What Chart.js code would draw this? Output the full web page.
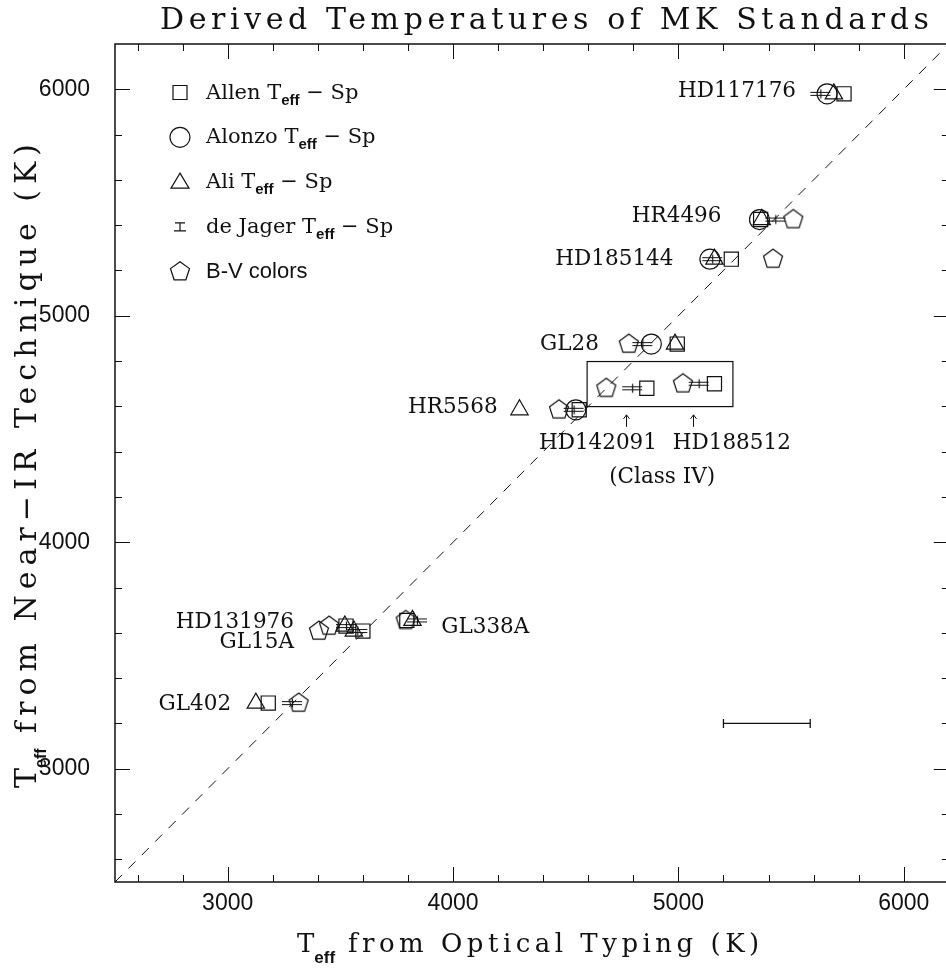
<!DOCTYPE html>
<html>
<head>
<meta charset="utf-8">
<title>Derived Temperatures of MK Standards</title>
<script src="https://cdn.jsdelivr.net/npm/chart.js@4.4.1/dist/chart.umd.min.js"></script>
<style>
  html, body { margin: 0; padding: 0; background: #fff; overflow: hidden; }
  #wrap { width: 960px; height: 969px; }
</style>
</head>
<body>
<div id="wrap"><canvas id="mkstd" width="960" height="969"></canvas></div>
<script>
// stars, same order in every list below
var stars = ['HD117176', 'HR4496', 'HD185144', 'GL28', 'HR5568', 'HD142091',
             'HD188512', 'HD131976', 'GL15A', 'GL338A', 'GL402'];

// Teff from the near-IR technique (y axis)
var nirTeff = [5980, 5425, 5250, 4875, 4585, 4680, 4700, 3630, 3608, 3655, 3290];

// Teff from optical typing (x axis), one list per calibration; null = none
var allenTeff   = [5735, 5365, 5235, 4995, 4560, 4860, 5160, 3525, 3600, 3795, 3180];
var alonzoTeff  = [5660, 5360, 5140, 4880, 4545, null, null, null, null, null, null];
var aliTeff     = [5690, 5370, 5160, 4985, 4295, null, null, 3520, 3560, 3820, 3125];
var deJagerTeff = [5630, 5430, 5150, 4840, 4535, 4795, 5090, 3525, 3575, 3840, 3285];
var bvTeff      = [null, 5510, 5420, 4780, 4470, 4680, 5020, 3450, 3405, 3790, 3315];

var majorTicks = [3000, 4000, 5000, 6000];

// typical uncertainty bar, lower right
var errBarX = [5200, 5585];
var errBarY = 3200;

// star names, placed in data units (text middle at y)
var labelSpots = [
  { text: 'HD117176', x: 5522, y: 5992, align: 'right' },
  { text: 'HR4496',   x: 5191, y: 5439, align: 'right' },
  { text: 'HD185144', x: 4978, y: 5247, align: 'right' },
  { text: 'GL28',     x: 4647, y: 4874, align: 'right' },
  { text: 'HR5568',   x: 4198, y: 4595, align: 'right' },
  { text: 'HD142091', x: 4643, y: 4436, align: 'center' },
  { text: 'HD188512', x: 5237, y: 4436, align: 'center' },
  { text: '(Class IV)', x: 4928, y: 4288, align: 'center' },
  { text: 'HD131976', x: 3294, y: 3645, align: 'right' },
  { text: 'GL15A',    x: 3294, y: 3557, align: 'right' },
  { text: 'GL338A',   x: 3948, y: 3623, align: 'left' },
  { text: 'GL402',    x: 3015, y: 3285, align: 'right' }
];
// the two subgiants, boxed, with arrows to their names
var classIVBox = { x0: 4595, x1: 5242, y0: 4599, y1: 4798 };
var arrowX = [4769, 5066];
var arrowY = 4536;

var INK = '#111';
var SERIF = '"DejaVu Serif", "Liberation Serif", serif';
var SANS = '"Liberation Sans", Arial, sans-serif';

function pts(xs) {
  var out = [];
  xs.forEach(function (x, i) {
    if (x != null) out.push({ x: x, y: nirTeff[i] });
  });
  return out;
}

// pentagon marker as an image point style
function pentagonMark(r) {
  var c = document.createElement('canvas');
  c.width = c.height = 2 * r + 4;
  var g = c.getContext('2d');
  g.strokeStyle = INK;
  g.lineWidth = 1.2;
  g.beginPath();
  for (var k = 0; k < 5; k++) {
    var a = -Math.PI / 2 + k * 2 * Math.PI / 5;
    var px = c.width / 2 + r * Math.cos(a), py = c.height / 2 + r * Math.sin(a);
    if (k === 0) g.moveTo(px, py); else g.lineTo(px, py);
  }
  g.closePath();
  g.stroke();
  return c;
}

// de Jager marker: short double bar with a centre tick
function deJagerMark() {
  var c = document.createElement('canvas');
  c.width = 24; c.height = 12;
  var g = c.getContext('2d');
  g.strokeStyle = INK;
  g.lineWidth = 1.2;
  g.beginPath();
  g.moveTo(2, 4.5); g.lineTo(22, 4.5);
  g.moveTo(2, 7.5); g.lineTo(22, 7.5);
  g.moveTo(12.5, 1.5); g.lineTo(12.5, 10.5);
  g.stroke();
  return c;
}

var penta = pentagonMark(10);
var jager = deJagerMark();

function markStyle(style) {
  return {
    pointStyle: style, pointRadius: 10, pointBorderWidth: 1.2,
    pointBorderColor: INK, pointBackgroundColor: 'rgba(0,0,0,0)', showLine: false
  };
}

// text runs with subscripts: [text, font, dy, letterSpacing]
function drawRuns(ctx, x, y, runs) {
  var cx = x;
  runs.forEach(function (r) {
    ctx.font = r[1];
    ctx.letterSpacing = (r[3] || 0) + 'px';
    ctx.fillText(r[0], cx, y + (r[2] || 0));
    cx += ctx.measureText(r[0]).width;
  });
  ctx.letterSpacing = '0px';
}

function legendSymbol(ctx, kind, x, y) {
  ctx.beginPath();
  if (kind === 'rect') {
    ctx.rect(x - 7, y - 7, 14, 14);
  } else if (kind === 'circle') {
    ctx.arc(x, y, 10, 0, 2 * Math.PI);
  } else if (kind === 'triangle') {
    ctx.moveTo(x, y - 9); ctx.lineTo(x + 9, y + 6); ctx.lineTo(x - 9, y + 6); ctx.closePath();
  } else if (kind === 'jager') {
    ctx.moveTo(x - 5, y - 4); ctx.lineTo(x + 5, y - 4);
    ctx.moveTo(x, y - 4); ctx.lineTo(x, y + 4);
    ctx.moveTo(x - 6, y + 4); ctx.lineTo(x + 6, y + 4);
  } else {
    for (var k = 0; k < 5; k++) {
      var a = -Math.PI / 2 + k * 2 * Math.PI / 5;
      var px = x + 10 * Math.cos(a), py = y + 10 * Math.sin(a);
      if (k === 0) ctx.moveTo(px, py); else ctx.lineTo(px, py);
    }
    ctx.closePath();
  }
  ctx.stroke();
}

var decor = {
  id: 'decor',
  afterDatasetsDraw: function (chart) {
    var ctx = chart.ctx, a = chart.chartArea;
    var xs = chart.scales.x, ys = chart.scales.y;
    ctx.save();
    ctx.strokeStyle = INK;
    ctx.fillStyle = INK;

    // frame and inward ticks on all four sides
    ctx.lineWidth = 1.5;
    ctx.strokeRect(a.left, a.top, a.right - a.left, a.bottom - a.top);
    ctx.lineWidth = 1;
    ctx.beginPath();
    for (var v = 2600; v < 6200; v += 200) {
      var len = v % 1000 === 0 ? 15 : 7;
      var px = Math.round(xs.getPixelForValue(v)) + 0.5;
      var py = Math.round(ys.getPixelForValue(v)) + 0.5;
      ctx.moveTo(px, a.bottom); ctx.lineTo(px, a.bottom - len);
      ctx.moveTo(px, a.top); ctx.lineTo(px, a.top + len);
      ctx.moveTo(a.left, py); ctx.lineTo(a.left + len, py);
      ctx.moveTo(a.right, py); ctx.lineTo(a.right - len, py);
    }
    ctx.stroke();

    // box round the class IV stars and the arrows under it
    var bx0 = xs.getPixelForValue(classIVBox.x0), bx1 = xs.getPixelForValue(classIVBox.x1);
    var by0 = ys.getPixelForValue(classIVBox.y1), by1 = ys.getPixelForValue(classIVBox.y0);
    ctx.lineWidth = 1.2;
    ctx.strokeRect(bx0, by0, bx1 - bx0, by1 - by0);
    ctx.lineWidth = 1;
    arrowX.forEach(function (ax) {
      var x = Math.round(xs.getPixelForValue(ax)) + 0.5, y = ys.getPixelForValue(arrowY);
      ctx.beginPath();
      ctx.moveTo(x, y + 6); ctx.lineTo(x, y - 6);
      ctx.moveTo(x - 3, y - 2); ctx.lineTo(x, y - 6); ctx.lineTo(x + 3, y - 2);
      ctx.stroke();
    });

    // star names
    ctx.font = '21.5px ' + SERIF;
    ctx.textBaseline = 'middle';
    labelSpots.forEach(function (l) {
      ctx.textAlign = l.align;
      ctx.fillText(l.text, xs.getPixelForValue(l.x), ys.getPixelForValue(l.y));
    });

    // legend
    ctx.textAlign = 'left';
    ctx.textBaseline = 'alphabetic';
    var serifL = '21px ' + SERIF, subL = 'bold 15px ' + SANS;
    var rows = [
      ['rect', [['Allen T', serifL], ['eff', subL, 6], [' \u2212 Sp', serifL]]],
      ['circle', [['Alonzo T', serifL], ['eff', subL, 6], [' \u2212 Sp', serifL]]],
      ['triangle', [['Ali T', serifL], ['eff', subL, 6], [' \u2212 Sp', serifL]]],
      ['jager', [['de Jager T', serifL], ['eff', subL, 6], [' \u2212 Sp', serifL]]],
      ['penta', [['B-V colors', '22px ' + SANS]]]
    ];
    ctx.lineWidth = 1.2;
    rows.forEach(function (row, i) {
      var y = 92.5 + i * 44.8;
      legendSymbol(ctx, row[0], 180, y);
      drawRuns(ctx, 206, y + 6, row[1]);
    });

    // chart title
    drawRuns(ctx, 160, 29, [['Derived Temperatures of MK Standards', '30px ' + SERIF, 0, 4.6]]);

    // axis titles
    var serifT = '26px ' + SERIF, subT = 'bold 17px ' + SANS;
    drawRuns(ctx, 297, 952, [['T', serifT], ['eff', subT, 11], [' from Optical Typing (K)', serifT, 0, 4.5]]);
    var serifY = '30px ' + SERIF, subY = 'bold 16px ' + SANS;
    ctx.save();
    ctx.translate(36, 788);
    ctx.rotate(-Math.PI / 2);
    drawRuns(ctx, 0, 0, [['T', serifY], ['eff', subY, 10], [' from Near\u2212IR Technique (K)', serifY, 0, 6]]);
    ctx.restore();

    ctx.restore();
  }
};

var tickFont = { family: SANS, size: 23 };

new Chart(document.getElementById('mkstd'), {
  type: 'scatter',
  data: {
    datasets: [
      Object.assign({ label: 'Allen', data: pts(allenTeff) }, markStyle('rect')),
      Object.assign({ label: 'Alonzo', data: pts(alonzoTeff) }, markStyle('circle')),
      Object.assign({ label: 'Ali', data: pts(aliTeff) }, markStyle('triangle')),
      Object.assign({ label: 'de Jager', data: pts(deJagerTeff) }, markStyle(jager)),
      Object.assign({ label: 'B-V', data: pts(bvTeff) }, markStyle(penta)),
      {
        label: 'one to one',
        data: [{ x: 2500, y: 2500 }, { x: 6200, y: 6200 }],
        showLine: true, borderColor: INK, borderWidth: 1, borderDash: [10, 9],
        pointRadius: 0
      },
      {
        label: 'error',
        data: errBarX.map(function (x) { return { x: x, y: errBarY }; }),
        showLine: true, borderColor: INK, borderWidth: 1.3,
        pointStyle: 'line', pointRotation: 90, pointRadius: 4.5,
        pointBorderWidth: 1.3, pointBorderColor: INK
      }
    ]
  },
  options: {
    responsive: false,
    animation: false,
    events: [],
    layout: { padding: { top: 44, right: 6, left: 0, bottom: 0 } },
    plugins: { legend: { display: false }, tooltip: { enabled: false } },
    scales: {
      x: {
        type: 'linear', min: 2500, max: 6200,
        afterFit: function (s) { s.height = 87; },
        afterBuildTicks: function (s) { s.ticks = majorTicks.map(function (v) { return { value: v }; }); },
        grid: { display: false, drawTicks: false },
        border: { display: false },
        ticks: { font: tickFont, color: INK, padding: 8, maxRotation: 0,
                 callback: function (v) { return String(v); } }
      },
      y: {
        type: 'linear', min: 2500, max: 6200,
        afterFit: function (s) { s.width = 115; },
        afterBuildTicks: function (s) { s.ticks = majorTicks.map(function (v) { return { value: v }; }); },
        grid: { display: false, drawTicks: false },
        border: { display: false },
        ticks: { font: tickFont, color: INK, padding: 25,
                 callback: function (v) { return String(v); } }
      }
    }
  },
  plugins: [decor]
});
</script>
</body>
</html>
